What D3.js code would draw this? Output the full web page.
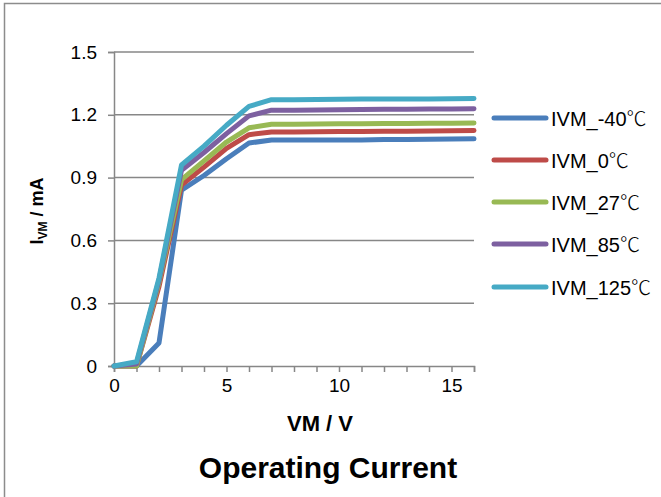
<!DOCTYPE html>
<html><head><meta charset="utf-8">
<script src="https://cdn.jsdelivr.net/npm/d3@7"></script>
<style>body{margin:0;background:#fff}svg{display:block}</style>
</head><body>
<svg id="c" width="661" height="497"></svg>
<script>
const xValues = [0,1,2,3,4,5,6,7,8,9,10,11,12,13,14,15,16];
const seriesNames = ["IVM_-40℃","IVM_0℃","IVM_27℃","IVM_85℃","IVM_125℃"];
const seriesColors = ["#4a7ebb","#be4b48","#98b954","#7d60a0","#46aac5"];
const ivm_m40 = [0,0,0.11,0.84,0.91,0.99,1.065,1.08,1.08,1.08,1.08,1.08,1.082,1.082,1.083,1.084,1.085];
const ivm_0   = [0,0,0.38,0.865,0.95,1.04,1.105,1.118,1.118,1.119,1.12,1.12,1.121,1.122,1.123,1.124,1.125];
const ivm_27  = [0,0,0.40,0.89,0.98,1.07,1.138,1.155,1.155,1.156,1.157,1.157,1.158,1.159,1.16,1.16,1.161];
const ivm_85  = [0,0.01,0.41,0.935,1.02,1.11,1.195,1.222,1.222,1.223,1.224,1.225,1.226,1.227,1.228,1.228,1.229];
const ivm_125 = [0,0.02,0.42,0.96,1.05,1.15,1.24,1.272,1.272,1.273,1.274,1.275,1.275,1.276,1.276,1.277,1.278];
const seriesValues = [ivm_m40, ivm_0, ivm_27, ivm_85, ivm_125];
const yTicks = [0,0.3,0.6,0.9,1.2,1.5];
const xTickLabels = [0,5,10,15];

const svg = d3.select("#c");
const font = "'Liberation Sans', Arial, sans-serif";
svg.append("rect").attr("x",4.5).attr("y",3.5).attr("width",700).attr("height",600)
  .attr("fill","#fff").attr("stroke","#8c8c8c").attr("stroke-width",1.5);

const x = d3.scaleLinear().domain([0,16]).range([114,474]);
const y = d3.scaleLinear().domain([0,1.5]).range([366,52]);

// gridlines
svg.append("g").selectAll("line").data(yTicks.filter(d=>d>0)).join("line")
  .attr("x1",x(0)).attr("x2",x(16)).attr("y1",d=>y(d)).attr("y2",d=>y(d))
  .attr("stroke","#878787").attr("stroke-width",1.5);

// y axis
const ya = svg.append("g").attr("transform",`translate(${x(0)},0)`)
  .call(d3.axisLeft(y).tickValues(yTicks).tickSize(6).tickPadding(11)
    .tickFormat(d=>d===0?"0":d3.format(".1f")(d)));
ya.select(".domain").attr("stroke","#878787").attr("stroke-width",1.5);
ya.selectAll(".tick line").attr("stroke","#878787").attr("stroke-width",1.5);
ya.selectAll("text").attr("font-family",font).attr("font-size",19).attr("fill","#000");

// x axis
const xa = svg.append("g").attr("transform",`translate(0,${y(0)})`)
  .call(d3.axisBottom(x).tickValues(xValues).tickSize(6).tickPadding(7)
    .tickFormat(d=>xTickLabels.includes(d)?d:""));
xa.select(".domain").attr("stroke","#878787").attr("stroke-width",1.5);
xa.selectAll(".tick line").attr("stroke","#878787").attr("stroke-width",1.5);
xa.selectAll("text").attr("font-family",font).attr("font-size",19).attr("fill","#000");

// lines
const line = d3.line().x((d,i)=>x(xValues[i])).y(d=>y(d));
seriesValues.forEach((vals,k)=>{
  svg.append("path").datum(vals).attr("d",line).attr("fill","none")
    .attr("stroke",seriesColors[k]).attr("stroke-width",5).attr("stroke-linejoin","round").attr("stroke-linecap","round");
});

// legend
const legY = [118,160,202,244,287];
seriesNames.forEach((n,k)=>{
  svg.append("line").attr("x1",494).attr("x2",546).attr("y1",legY[k]).attr("y2",legY[k])
    .attr("stroke",seriesColors[k]).attr("stroke-width",5).attr("stroke-linecap","round");
  const base = n.replace("℃","");
  const t = svg.append("text").attr("x",551).attr("y",legY[k]+8)
    .attr("font-family",font).attr("font-size",20).attr("fill","#000");
  t.append("tspan").text(base);
  t.append("tspan").attr("font-family","'Noto Sans CJK SC'").attr("font-weight",300).attr("font-size",20).text("℃");
});

// axis titles
svg.append("text").attr("x",320).attr("y",431).attr("text-anchor","middle")
  .attr("font-family",font).attr("font-weight","bold").attr("font-size",22).text("VM / V");
const yl = svg.append("text").attr("transform","translate(43,211) rotate(-90)").attr("text-anchor","middle")
  .attr("font-family",font).attr("font-weight","bold").attr("font-size",18);
yl.append("tspan").text("I");
yl.append("tspan").attr("font-size",12).attr("dy",4).text("VM");
yl.append("tspan").attr("dy",-4).text(" / mA");

svg.append("text").attr("x",328).attr("y",478).attr("text-anchor","middle")
  .attr("font-family",font).attr("font-weight","bold").attr("font-size",30).text("Operating Current");
</script>
</body></html>
